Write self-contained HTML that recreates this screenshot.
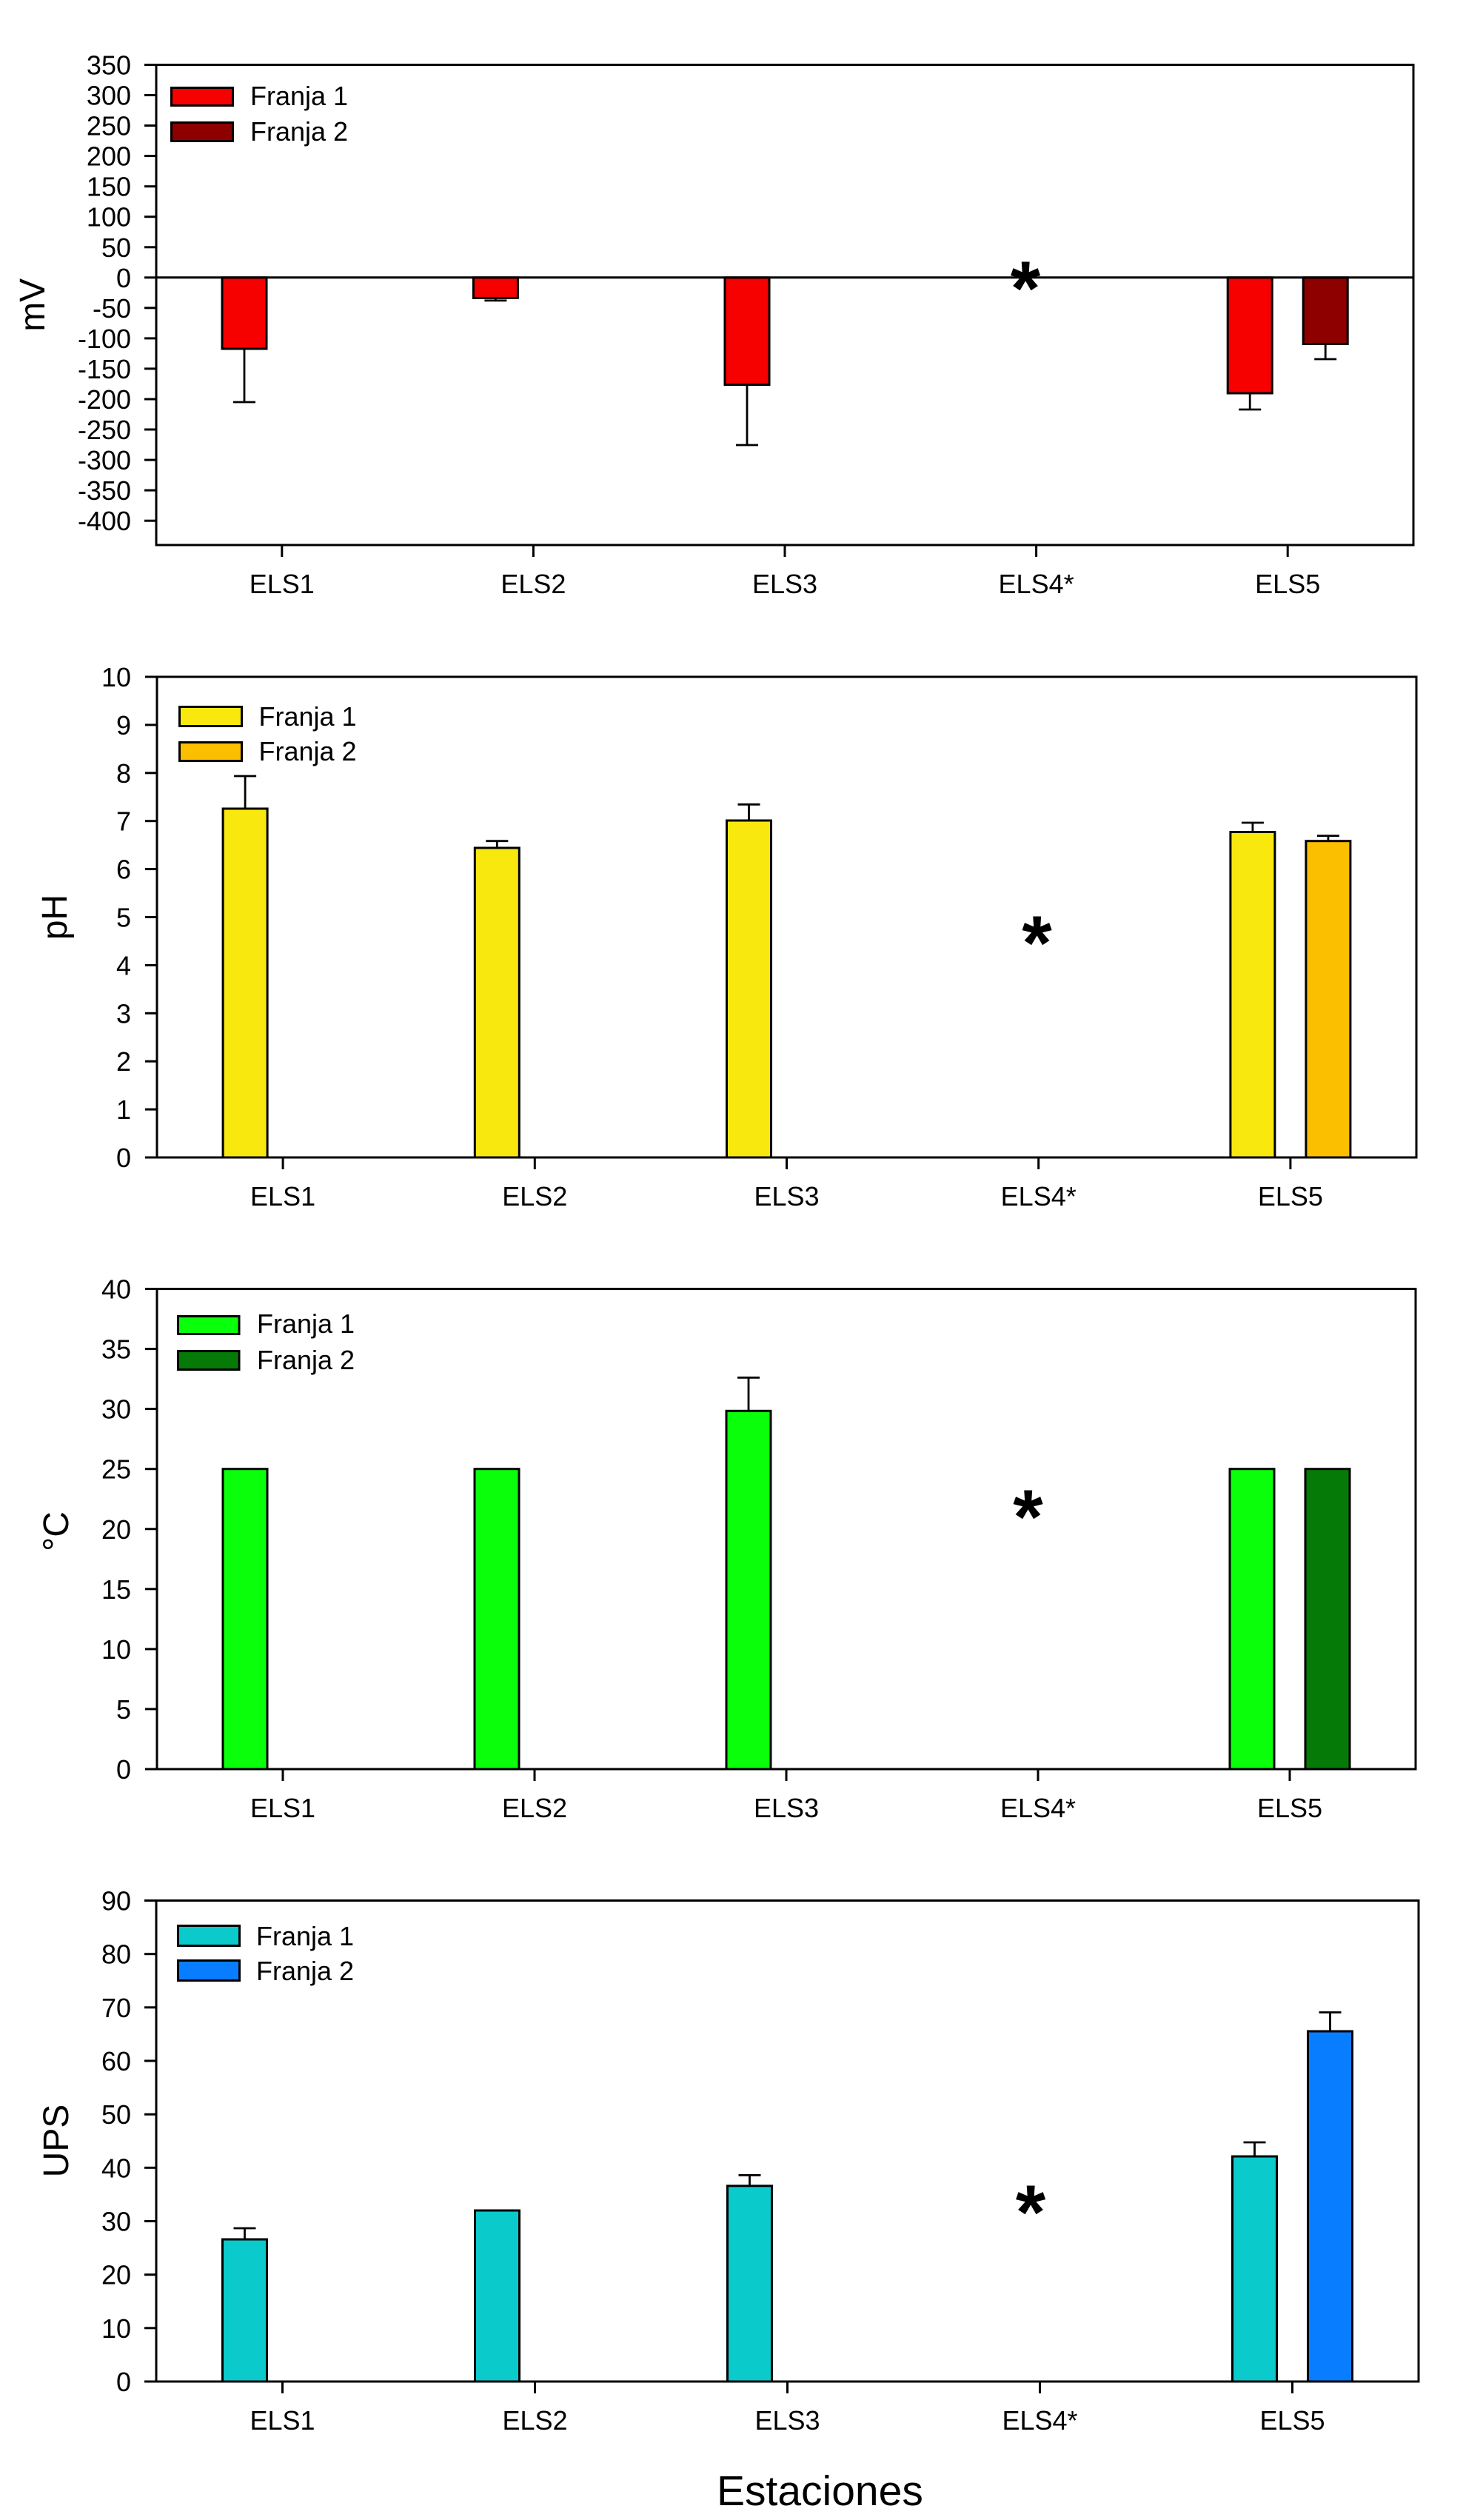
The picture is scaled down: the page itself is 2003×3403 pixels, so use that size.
<!DOCTYPE html>
<html>
<head>
<meta charset="utf-8">
<style>
  html, body { margin: 0; padding: 0; background: #ffffff; }
  svg { display: block; }
  text { font-family: "Liberation Sans", Arial, sans-serif; fill: #000; }
  .tl { font-size: 36px; text-anchor: end; }
  .xl { font-size: 36px; text-anchor: middle; }
  .lg { font-size: 36px; }
  .yl { font-size: 48px; text-anchor: middle; }
  .ast { font-size: 104px; font-weight: bold; text-anchor: middle; }
  .ax { fill: none; stroke: #000; stroke-width: 3; }
  .tk { stroke: #000; stroke-width: 3; }
  .bar { stroke: #000; stroke-width: 3; }
  .eb { stroke: #000; stroke-width: 2.8; }
</style>
</head>
<body>
<svg width="2003" height="3403" viewBox="0 0 2003 3403" xmlns="http://www.w3.org/2000/svg">
<rect x="0" y="0" width="2003" height="3403" fill="#ffffff"/>

<!-- ================= CHART 1 : mV ================= -->
<g>
  <rect class="bar" x="300" y="374.8" width="60" height="96.2" fill="#F70000"/>
  <rect class="bar" x="639.4" y="374.8" width="60" height="27.6" fill="#F70000"/>
  <rect class="bar" x="979" y="374.8" width="60" height="144.7" fill="#F70000"/>
  <rect class="bar" x="1658.2" y="374.8" width="60" height="156.2" fill="#F70000"/>
  <rect class="bar" x="1760.2" y="374.8" width="60" height="89.7" fill="#8E0000"/>
  <line class="eb" x1="330" y1="471" x2="330" y2="543"/><line class="eb" x1="315" y1="543" x2="345" y2="543"/>
  <line class="eb" x1="669.4" y1="402.4" x2="669.4" y2="405.9"/><line class="eb" x1="654.4" y1="405.9" x2="684.4" y2="405.9"/>
  <line class="eb" x1="1009" y1="519.5" x2="1009" y2="601"/><line class="eb" x1="994" y1="601" x2="1024" y2="601"/>
  <line class="eb" x1="1688.2" y1="531" x2="1688.2" y2="553"/><line class="eb" x1="1673.2" y1="553" x2="1703.2" y2="553"/>
  <line class="eb" x1="1790.2" y1="464.5" x2="1790.2" y2="485"/><line class="eb" x1="1775.2" y1="485" x2="1805.2" y2="485"/>
  <line class="tk" x1="211" y1="374.8" x2="1909" y2="374.8"/>
  <rect class="ax" x="211" y="87.5" width="1698" height="648.5"/>
  <g class="tk">
    <line x1="195" y1="87.5" x2="211" y2="87.5"/>
    <line x1="195" y1="128.5" x2="211" y2="128.5"/>
    <line x1="195" y1="169.6" x2="211" y2="169.6"/>
    <line x1="195" y1="210.6" x2="211" y2="210.6"/>
    <line x1="195" y1="251.7" x2="211" y2="251.7"/>
    <line x1="195" y1="292.7" x2="211" y2="292.7"/>
    <line x1="195" y1="333.8" x2="211" y2="333.8"/>
    <line x1="195" y1="374.8" x2="211" y2="374.8"/>
    <line x1="195" y1="415.8" x2="211" y2="415.8"/>
    <line x1="195" y1="456.9" x2="211" y2="456.9"/>
    <line x1="195" y1="497.9" x2="211" y2="497.9"/>
    <line x1="195" y1="539.0" x2="211" y2="539.0"/>
    <line x1="195" y1="580.0" x2="211" y2="580.0"/>
    <line x1="195" y1="621.1" x2="211" y2="621.1"/>
    <line x1="195" y1="662.1" x2="211" y2="662.1"/>
    <line x1="195" y1="703.2" x2="211" y2="703.2"/>
  </g>
  <text class="tl" x="177" y="100.5">350</text>
  <text class="tl" x="177" y="141.5">300</text>
  <text class="tl" x="177" y="182.6">250</text>
  <text class="tl" x="177" y="223.6">200</text>
  <text class="tl" x="177" y="264.7">150</text>
  <text class="tl" x="177" y="305.7">100</text>
  <text class="tl" x="177" y="346.8">50</text>
  <text class="tl" x="177" y="387.8">0</text>
  <text class="tl" x="177" y="428.8">-50</text>
  <text class="tl" x="177" y="469.9">-100</text>
  <text class="tl" x="177" y="510.9">-150</text>
  <text class="tl" x="177" y="552.0">-200</text>
  <text class="tl" x="177" y="593.0">-250</text>
  <text class="tl" x="177" y="634.1">-300</text>
  <text class="tl" x="177" y="675.1">-350</text>
  <text class="tl" x="177" y="716.2">-400</text>
  <g class="tk">
    <line x1="380.8" y1="736" x2="380.8" y2="752"/>
    <line x1="720.4" y1="736" x2="720.4" y2="752"/>
    <line x1="1060" y1="736" x2="1060" y2="752"/>
    <line x1="1399.6" y1="736" x2="1399.6" y2="752"/>
    <line x1="1739.2" y1="736" x2="1739.2" y2="752"/>
  </g>
  <text class="xl" x="380.8" y="801">ELS1</text>
  <text class="xl" x="720.4" y="801">ELS2</text>
  <text class="xl" x="1060" y="801">ELS3</text>
  <text class="xl" x="1399.6" y="801">ELS4*</text>
  <text class="xl" x="1739.2" y="801">ELS5</text>
  <rect class="bar" x="231.5" y="118.5" width="83" height="24" fill="#F70000"/>
  <rect class="bar" x="231.5" y="165.5" width="83" height="25" fill="#8E0000"/>
  <text class="lg" x="338" y="142">Franja 1</text>
  <text class="lg" x="338" y="190">Franja 2</text>
  <text class="ast" x="1385" y="425">*</text>
  <text class="yl" transform="translate(60,411.8) rotate(-90)">mV</text>
</g>

<!-- ================= CHART 2 : pH ================= -->
<g>
  <rect class="bar" x="301.1" y="1092" width="60" height="471" fill="#F8E80E"/>
  <rect class="bar" x="641.3" y="1145" width="60" height="418" fill="#F8E80E"/>
  <rect class="bar" x="981.5" y="1108" width="60" height="455" fill="#F8E80E"/>
  <rect class="bar" x="1661.9" y="1123.5" width="60" height="439.5" fill="#F8E80E"/>
  <rect class="bar" x="1763.9" y="1135.7" width="60" height="427.3" fill="#FBBF00"/>
  <line class="eb" x1="331.1" y1="1092" x2="331.1" y2="1048"/><line class="eb" x1="316.1" y1="1048" x2="346.1" y2="1048"/>
  <line class="eb" x1="671.3" y1="1145" x2="671.3" y2="1135.7"/><line class="eb" x1="656.3" y1="1135.7" x2="686.3" y2="1135.7"/>
  <line class="eb" x1="1011.5" y1="1108" x2="1011.5" y2="1086.3"/><line class="eb" x1="996.5" y1="1086.3" x2="1026.5" y2="1086.3"/>
  <line class="eb" x1="1691.9" y1="1123.5" x2="1691.9" y2="1111"/><line class="eb" x1="1676.9" y1="1111" x2="1706.9" y2="1111"/>
  <line class="eb" x1="1793.9" y1="1135.7" x2="1793.9" y2="1128.6"/><line class="eb" x1="1778.9" y1="1128.6" x2="1808.9" y2="1128.6"/>
  <rect class="ax" x="212" y="914" width="1701" height="649"/>
  <g class="tk">
    <line x1="196" y1="1563" x2="212" y2="1563"/>
    <line x1="196" y1="1498.1" x2="212" y2="1498.1"/>
    <line x1="196" y1="1433.2" x2="212" y2="1433.2"/>
    <line x1="196" y1="1368.3" x2="212" y2="1368.3"/>
    <line x1="196" y1="1303.4" x2="212" y2="1303.4"/>
    <line x1="196" y1="1238.5" x2="212" y2="1238.5"/>
    <line x1="196" y1="1173.6" x2="212" y2="1173.6"/>
    <line x1="196" y1="1108.7" x2="212" y2="1108.7"/>
    <line x1="196" y1="1043.8" x2="212" y2="1043.8"/>
    <line x1="196" y1="978.9" x2="212" y2="978.9"/>
    <line x1="196" y1="914" x2="212" y2="914"/>
  </g>
  <text class="tl" x="177" y="1576">0</text>
  <text class="tl" x="177" y="1511.1">1</text>
  <text class="tl" x="177" y="1446.2">2</text>
  <text class="tl" x="177" y="1381.3">3</text>
  <text class="tl" x="177" y="1316.4">4</text>
  <text class="tl" x="177" y="1251.5">5</text>
  <text class="tl" x="177" y="1186.6">6</text>
  <text class="tl" x="177" y="1121.7">7</text>
  <text class="tl" x="177" y="1056.8">8</text>
  <text class="tl" x="177" y="991.9">9</text>
  <text class="tl" x="177" y="927">10</text>
  <g class="tk">
    <line x1="382.1" y1="1563" x2="382.1" y2="1579"/>
    <line x1="722.3" y1="1563" x2="722.3" y2="1579"/>
    <line x1="1062.5" y1="1563" x2="1062.5" y2="1579"/>
    <line x1="1402.7" y1="1563" x2="1402.7" y2="1579"/>
    <line x1="1742.9" y1="1563" x2="1742.9" y2="1579"/>
  </g>
  <text class="xl" x="382.1" y="1628">ELS1</text>
  <text class="xl" x="722.3" y="1628">ELS2</text>
  <text class="xl" x="1062.5" y="1628">ELS3</text>
  <text class="xl" x="1402.7" y="1628">ELS4*</text>
  <text class="xl" x="1742.9" y="1628">ELS5</text>
  <rect class="bar" x="242.5" y="954.5" width="84" height="26" fill="#F8E80E"/>
  <rect class="bar" x="242.5" y="1002.5" width="84" height="25" fill="#FBBF00"/>
  <text class="lg" x="349.5" y="980">Franja 1</text>
  <text class="lg" x="349.5" y="1027">Franja 2</text>
  <text class="ast" x="1400.5" y="1309">*</text>
  <text class="yl" transform="translate(90,1238.5) rotate(-90)">pH</text>
</g>

<!-- ================= CHART 3 : °C ================= -->
<g>
  <rect class="bar" x="301" y="1983.7" width="60" height="405.3" fill="#0AFF0A"/>
  <rect class="bar" x="641" y="1983.7" width="60" height="405.3" fill="#0AFF0A"/>
  <rect class="bar" x="981" y="1905.3" width="60" height="483.7" fill="#0AFF0A"/>
  <rect class="bar" x="1661" y="1983.7" width="60" height="405.3" fill="#0AFF0A"/>
  <rect class="bar" x="1763" y="1983.7" width="60" height="405.3" fill="#067A06"/>
  <line class="eb" x1="1011" y1="1905.3" x2="1011" y2="1860.3"/><line class="eb" x1="996" y1="1860.3" x2="1026" y2="1860.3"/>
  <rect class="ax" x="212" y="1740.5" width="1700" height="648.5"/>
  <g class="tk">
    <line x1="196" y1="2389" x2="212" y2="2389"/>
    <line x1="196" y1="2307.9" x2="212" y2="2307.9"/>
    <line x1="196" y1="2226.9" x2="212" y2="2226.9"/>
    <line x1="196" y1="2145.8" x2="212" y2="2145.8"/>
    <line x1="196" y1="2064.75" x2="212" y2="2064.75"/>
    <line x1="196" y1="1983.7" x2="212" y2="1983.7"/>
    <line x1="196" y1="1902.6" x2="212" y2="1902.6"/>
    <line x1="196" y1="1821.6" x2="212" y2="1821.6"/>
    <line x1="196" y1="1740.5" x2="212" y2="1740.5"/>
  </g>
  <text class="tl" x="177" y="2402">0</text>
  <text class="tl" x="177" y="2320.9">5</text>
  <text class="tl" x="177" y="2239.9">10</text>
  <text class="tl" x="177" y="2158.8">15</text>
  <text class="tl" x="177" y="2077.75">20</text>
  <text class="tl" x="177" y="1996.7">25</text>
  <text class="tl" x="177" y="1915.6">30</text>
  <text class="tl" x="177" y="1834.6">35</text>
  <text class="tl" x="177" y="1753.5">40</text>
  <g class="tk">
    <line x1="382" y1="2389" x2="382" y2="2405"/>
    <line x1="722" y1="2389" x2="722" y2="2405"/>
    <line x1="1062" y1="2389" x2="1062" y2="2405"/>
    <line x1="1402" y1="2389" x2="1402" y2="2405"/>
    <line x1="1742" y1="2389" x2="1742" y2="2405"/>
  </g>
  <text class="xl" x="382" y="2454">ELS1</text>
  <text class="xl" x="722" y="2454">ELS2</text>
  <text class="xl" x="1062" y="2454">ELS3</text>
  <text class="xl" x="1402" y="2454">ELS4*</text>
  <text class="xl" x="1742" y="2454">ELS5</text>
  <rect class="bar" x="240.5" y="1777.5" width="82.5" height="24" fill="#0AFF0A"/>
  <rect class="bar" x="240.5" y="1824.5" width="82.5" height="25" fill="#067A06"/>
  <text class="lg" x="347" y="1800">Franja 1</text>
  <text class="lg" x="347" y="1849">Franja 2</text>
  <text class="ast" x="1388.5" y="2084">*</text>
  <text class="yl" transform="translate(92,2068) rotate(-90)">°C</text>
</g>

<!-- ================= CHART 4 : UPS ================= -->
<g>
  <rect class="bar" x="300.5" y="3024" width="60" height="192" fill="#0ACACC"/>
  <rect class="bar" x="641.5" y="2985" width="60" height="231" fill="#0ACACC"/>
  <rect class="bar" x="982.5" y="2951.8" width="60" height="264.2" fill="#0ACACC"/>
  <rect class="bar" x="1664.5" y="2912" width="60" height="304" fill="#0ACACC"/>
  <rect class="bar" x="1766.5" y="2743" width="60" height="473" fill="#087DFF"/>
  <line class="eb" x1="330.5" y1="3024" x2="330.5" y2="3009"/><line class="eb" x1="315.5" y1="3009" x2="345.5" y2="3009"/>
  <line class="eb" x1="1012.5" y1="2951.8" x2="1012.5" y2="2937.4"/><line class="eb" x1="997.5" y1="2937.4" x2="1027.5" y2="2937.4"/>
  <line class="eb" x1="1694.5" y1="2912" x2="1694.5" y2="2893"/><line class="eb" x1="1679.5" y1="2893" x2="1709.5" y2="2893"/>
  <line class="eb" x1="1796.5" y1="2743" x2="1796.5" y2="2717.5"/><line class="eb" x1="1781.5" y1="2717.5" x2="1811.5" y2="2717.5"/>
  <rect class="ax" x="211" y="2566.5" width="1705" height="649.5"/>
  <g class="tk">
    <line x1="195" y1="3216" x2="211" y2="3216"/>
    <line x1="195" y1="3143.8" x2="211" y2="3143.8"/>
    <line x1="195" y1="3071.7" x2="211" y2="3071.7"/>
    <line x1="195" y1="2999.5" x2="211" y2="2999.5"/>
    <line x1="195" y1="2927.3" x2="211" y2="2927.3"/>
    <line x1="195" y1="2855.2" x2="211" y2="2855.2"/>
    <line x1="195" y1="2783" x2="211" y2="2783"/>
    <line x1="195" y1="2710.8" x2="211" y2="2710.8"/>
    <line x1="195" y1="2638.7" x2="211" y2="2638.7"/>
    <line x1="195" y1="2566.5" x2="211" y2="2566.5"/>
  </g>
  <text class="tl" x="177" y="3229">0</text>
  <text class="tl" x="177" y="3156.8">10</text>
  <text class="tl" x="177" y="3084.7">20</text>
  <text class="tl" x="177" y="3012.5">30</text>
  <text class="tl" x="177" y="2940.3">40</text>
  <text class="tl" x="177" y="2868.2">50</text>
  <text class="tl" x="177" y="2796">60</text>
  <text class="tl" x="177" y="2723.8">70</text>
  <text class="tl" x="177" y="2651.7">80</text>
  <text class="tl" x="177" y="2579.5">90</text>
  <g class="tk">
    <line x1="381.5" y1="3216" x2="381.5" y2="3232"/>
    <line x1="722.5" y1="3216" x2="722.5" y2="3232"/>
    <line x1="1063.5" y1="3216" x2="1063.5" y2="3232"/>
    <line x1="1404.5" y1="3216" x2="1404.5" y2="3232"/>
    <line x1="1745.5" y1="3216" x2="1745.5" y2="3232"/>
  </g>
  <text class="xl" x="381.5" y="3281">ELS1</text>
  <text class="xl" x="722.5" y="3281">ELS2</text>
  <text class="xl" x="1063.5" y="3281">ELS3</text>
  <text class="xl" x="1404.5" y="3281">ELS4*</text>
  <text class="xl" x="1745.5" y="3281">ELS5</text>
  <rect class="bar" x="240.5" y="2600.5" width="83" height="27" fill="#0ACACC"/>
  <rect class="bar" x="240.5" y="2647.5" width="83" height="27" fill="#087DFF"/>
  <text class="lg" x="346" y="2627">Franja 1</text>
  <text class="lg" x="346" y="2674">Franja 2</text>
  <text class="ast" x="1392" y="3023">*</text>
  <text class="yl" transform="translate(92,2891) rotate(-90)">UPS</text>
</g>

<text x="968" y="3383" style="font-size:57px;">Estaciones</text>
</svg>
</body>
</html>
